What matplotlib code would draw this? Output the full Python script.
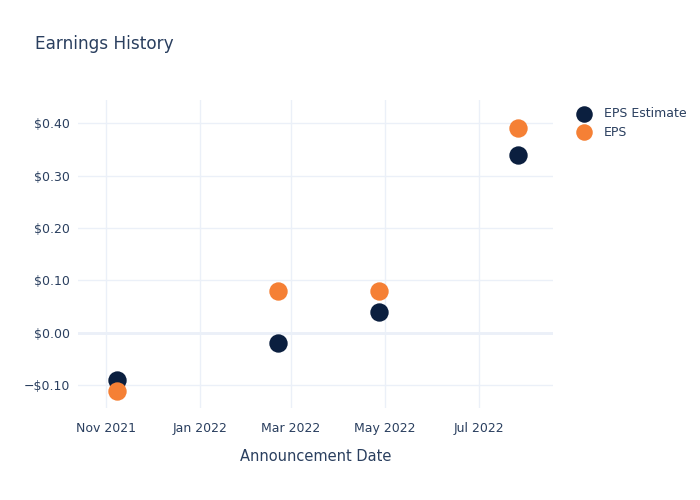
import datetime as dt

import matplotlib
matplotlib.use("Agg")
import matplotlib.pyplot as plt
import matplotlib.dates as mdates
from matplotlib.ticker import FuncFormatter

# data
dates = [dt.date(2021, 11, 8), dt.date(2022, 2, 21), dt.date(2022, 4, 27), dt.date(2022, 7, 26)]
eps_estimate = [-0.09, -0.02, 0.04, 0.34]
eps_actual = [-0.11, 0.08, 0.08, 0.39]
y_ticks = [-0.10, 0.00, 0.10, 0.20, 0.30, 0.40]
x_ticks = [dt.date(2021, 11, 1), dt.date(2022, 1, 1), dt.date(2022, 3, 1),
           dt.date(2022, 5, 1), dt.date(2022, 7, 1)]

TEXT = "#2a3f5f"
GRID = "#ebf0f8"
NAVY = "#0b1f3f"
ORANGE = "#f58035"

plt.rcParams["font.family"] = ["DejaVu Sans"]

fig = plt.figure(figsize=(7, 5), dpi=100)
ax = fig.add_axes([78 / 700, 92 / 500, 475 / 700, 308 / 500])

ax.scatter(dates, eps_estimate, s=175, color=NAVY, zorder=3, label="EPS Estimate", linewidths=0)
ax.scatter(dates, eps_actual, s=175, color=ORANGE, zorder=3, label="EPS", linewidths=0)

ax.set_xlim(dt.date(2021, 10, 14), dt.date(2022, 8, 18))
ax.set_ylim(-0.143, 0.444)

ax.set_xticks(x_ticks)
ax.xaxis.set_major_formatter(mdates.DateFormatter("%b %Y"))
ax.set_yticks(y_ticks)


def money(v, pos):
    s = "${:.2f}".format(abs(v))
    return "\u2212" + s if v < -1e-9 else s


ax.yaxis.set_major_formatter(FuncFormatter(money))

ax.grid(True, color=GRID, linewidth=1, zorder=0)
ax.axhline(0, color=GRID, linewidth=2, zorder=1)
for sp in ax.spines.values():
    sp.set_visible(False)
ax.tick_params(length=0, colors=TEXT, labelsize=9, pad=6)
ax.tick_params(axis="x", pad=10)

ax.set_xlabel("Announcement Date", color=TEXT, fontsize=10.5, labelpad=10)
fig.text(35 / 700, 1 - 44 / 500, "Earnings History", color=TEXT, fontsize=12.2, va="center")

leg = ax.legend(loc="upper left", bbox_to_anchor=(1.028, 0.993), frameon=False,
                fontsize=9, labelcolor=TEXT, handletextpad=0.6, borderaxespad=0,
                labelspacing=0.45, markerscale=0.9)

fig.savefig("out.png", dpi=100)
